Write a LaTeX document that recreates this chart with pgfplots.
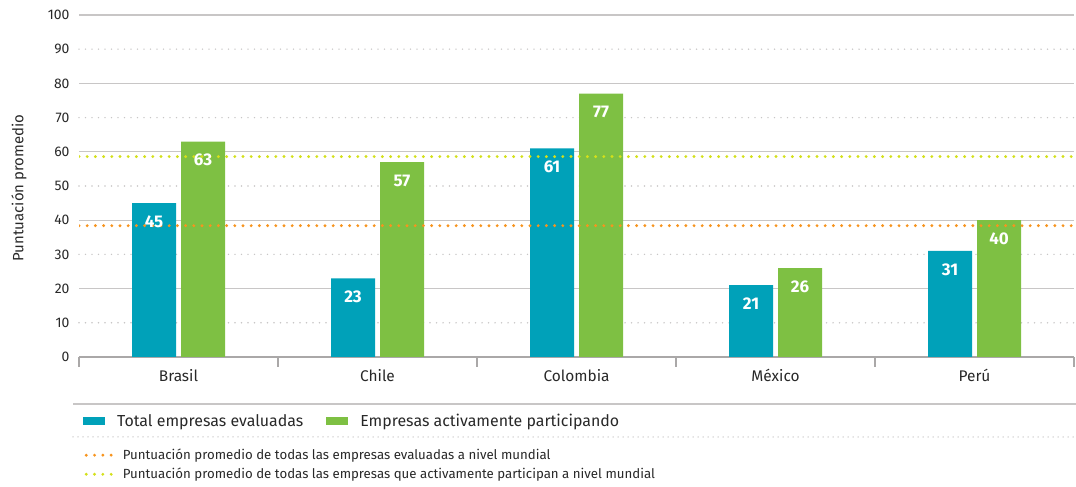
\documentclass[border=0pt]{standalone}
\usepackage{fontspec}
\setmainfont{Fira Sans}
\usepackage{pgfplots}
\pgfplotsset{compat=1.18}
\definecolor{cblue}{RGB}{0,161,185}
\definecolor{cgreen}{RGB}{126,192,67}
\definecolor{corange}{RGB}{247,148,30}
\definecolor{clime}{RGB}{212,224,26}
\definecolor{cgrid}{RGB}{200,198,198}
\definecolor{ctext}{RGB}{40,40,40}
\pgfplotsset{
  sqlegend/.style={legend image code/.code={\fill[##1] (0bp,-4bp) rectangle (22bp,4bp);}},
  dotlegend/.style={legend image code/.code={\draw[##1, line width=3.2bp, dash pattern=on 0bp off 8.3bp, line cap=round] (1.6bp,0bp) -- (26.6bp,0bp);}},
  barlab/.style={every node near coord/.style={anchor=center, xshift=#1, yshift=-18.5bp, text=white, font=\fontsize{17}{19}\selectfont\bfseries}},
}
\pgfplotstableread{
x tot act
0 45 63
1 23 57
2 61 77
3 21 26
4 31 40
}\datatable
\begin{document}
\begin{tikzpicture}[x=1bp,y=1bp]
\useasboundingbox (0,0) rectangle (1076,487);
\begin{axis}[
  at={(79bp,130bp)}, anchor=south west,
  scale only axis, width=995bp, height=342bp,
  xmin=-0.5, xmax=4.5, ymin=0, ymax=100,
  axis x line*=bottom, axis y line*=left,
  y axis line style={draw=none},
  x axis line style={draw=cgrid!85!black, line width=1.5bp},
  xtick={0,1,2,3,4},
  xticklabels={Brasil,Chile,Colombia,México,Perú},
  minor xtick={-0.5,0.5,1.5,2.5,3.5,4.5},
  major tick length=0bp, minor tick length=10bp, tick align=outside,
  xtick style={draw=cgrid!85!black, line width=1.5bp},
  ytick style={draw=none},
  ytick={0,10,...,100},
  minor ytick={10,30,50,70,90},
  yminorgrids=true,
  minor grid style={cgrid, line width=1.6bp, dash pattern=on 0bp off 6.5bp, line cap=round},
  extra y ticks={20,40,60,80,100},
  extra y tick labels={},
  extra y tick style={grid=major, major grid style={cgrid, line width=1.3bp}},
  /pgf/number format/assume math mode=true,
  yticklabel style={font=\fontsize{14}{16}\selectfont, text=ctext, xshift=-6bp},
  xticklabel style={font=\fontsize{15.5}{18}\selectfont, text=ctext, yshift=-9bp},
  ylabel={Puntuación promedio},
  ylabel style={at={(axis description cs:-0.0603,0.494)}, anchor=center, font=\fontsize{15}{17}\selectfont, text=ctext},
  legend style={at={(axis description cs:0.004,-0.187)}, anchor=west, draw=none, fill=none, inner sep=0bp,
    font=\fontsize{16}{18}\selectfont, text=ctext, legend columns=2,
    /tikz/every odd column/.append style={column sep=10bp},
    /tikz/every even column/.append style={column sep=21bp}},
  legend cell align=left,
]
\addplot[ybar, bar width=44bp, bar shift=-24.5bp, fill=cblue, draw=none, sqlegend] table[x=x, y=tot] {\datatable};
\addlegendentry{Total empresas evaluadas}
\addplot[ybar, bar width=44bp, bar shift=24.5bp, fill=cgreen, draw=none, sqlegend] table[x=x, y=act] {\datatable};
\addlegendentry{Empresas activamente participando}
\addplot[corange, line width=3.2bp, dash pattern=on 0bp off 8.2bp, line cap=round, forget plot] coordinates {(-0.5,38.4) (4.5,38.4)};
\addplot[clime, line width=3.2bp, dash pattern=on 0bp off 8.2bp, line cap=round, forget plot] coordinates {(-0.5,58.6) (4.5,58.6)};
\addplot[draw=none, mark=none, forget plot, nodes near coords, barlab=-24.5bp] table[x=x, y=tot] {\datatable};
\addplot[draw=none, mark=none, forget plot, nodes near coords, barlab=24.5bp] table[x=x, y=act] {\datatable};
\end{axis}
\begin{axis}[
  at={(79bp,130bp)}, anchor=south west,
  scale only axis, width=995bp, height=342bp,
  hide axis, xmin=0, xmax=1, ymin=0, ymax=1,
  legend style={at={(axis description cs:0.0055,-0.315)}, anchor=west, draw=none, fill=none, inner sep=0bp,
    font=\fontsize{13.3}{15}\selectfont, text=ctext, row sep=3bp,
    /tikz/every odd column/.append style={column sep=8bp}},
  legend cell align=left,
]
\addlegendimage{corange, dotlegend}
\addlegendentry{Puntuación promedio de todas las empresas evaluadas a nivel mundial}
\addlegendimage{clime, dotlegend}
\addlegendentry{Puntuación promedio de todas las empresas que activamente participan a nivel mundial}
\end{axis}
\draw[cgrid, line width=1.5bp] (73,83) -- (1076,83);
\draw[cgrid, line width=1.5bp, dash pattern=on 0bp off 5bp, line cap=round] (73,50) -- (1076,50);
\end{tikzpicture}
\end{document}
